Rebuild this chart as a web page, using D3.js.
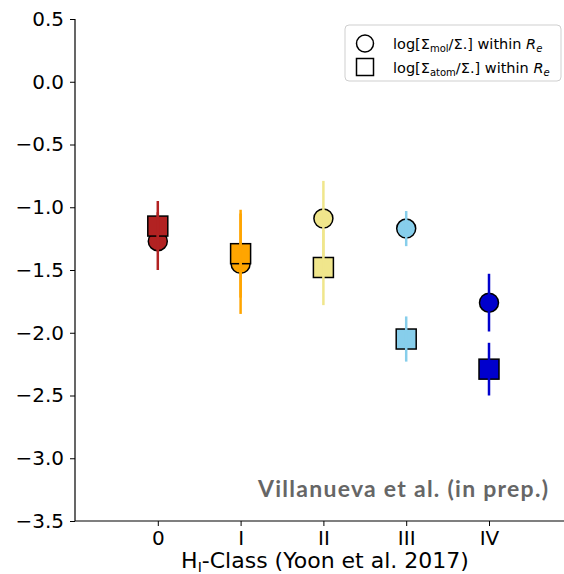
<!DOCTYPE html>
<html>
<head>
<meta charset="utf-8">
<script src="https://cdn.jsdelivr.net/npm/d3@7"></script>
<style>
  html, body { margin: 0; padding: 0; background: #fff; }
  svg { display: block; }
</style>
</head>
<body>
<svg id="chart" width="564" height="574"></svg>
<script>
// HI classes along the x axis
const classes = [0, 1, 2, 3, 4];
const classLabels = ["0", "I", "II", "III", "IV"];
const classColors = ["#b22222", "#ffa500", "#f0e68c", "#87ceeb", "#0000cd"];

// log[Σmol/Σ*] within Re, with symmetric errors
const molValues = [-1.27, -1.45, -1.09, -1.17, -1.76];
const molErrors = [0.23, 0.40, 0.30, 0.14, 0.23];

// log[Σatom/Σ*] within Re, with symmetric errors
const atomValues = [-1.15, -1.37, -1.48, -2.05, -2.29];
const atomErrors = [0.20, 0.35, 0.30, 0.18, 0.21];

// y axis ticks
const yTicks = [0.5, 0.0, -0.5, -1.0, -1.5, -2.0, -2.5, -3.0, -3.5];

const svg = d3.select("#chart");
const plotLeft = 75, plotBottom = 521, plotTop = 19;

const x = d3.scaleLinear().domain([-1, 5]).range([plotLeft, plotLeft + 6 * 82.8]);
const y = d3.scaleLinear().domain([-3.5, 0.5]).range([plotBottom, plotTop]);

const font = "'DejaVu Sans', sans-serif";

// Axes (left and bottom spines only)
const yAxis = svg.append("g")
  .attr("transform", `translate(${plotLeft},0)`)
  .call(d3.axisLeft(y).tickValues(yTicks).tickFormat(d3.format(".1f")).tickSize(5).tickPadding(6));
yAxis.selectAll("text").attr("font-family", font).attr("font-size", 20).attr("fill", "#000")
  .text(d => d3.format(".1f")(d).replace("-", "\u2212"));

const xAxis = svg.append("g")
  .attr("transform", `translate(0,${plotBottom})`)
  .call(d3.axisBottom(x).tickValues(classes).tickFormat((d, i) => classLabels[i]).tickSize(5).tickPadding(5));
xAxis.selectAll("text").attr("font-family", font).attr("font-size", 20).attr("fill", "#000");
[yAxis, xAxis].forEach(g => {
  g.select(".domain").attr("stroke", "#000").attr("stroke-width", 1.2);
  g.selectAll(".tick line").attr("stroke", "#000").attr("stroke-width", 1);
});
yAxis.select(".domain").attr("d", `M0,${plotBottom}V${plotTop}`);
xAxis.select(".domain").attr("d", `M${plotLeft},0H564`);

const plot = svg.append("g");

// Markers: circles for molecular, squares for atomic drawn above them
plot.selectAll(null).data(classes).enter().append("circle")
  .attr("cx", d => x(d))
  .attr("cy", (d, i) => y(molValues[i]))
  .attr("r", 9.5)
  .attr("fill", (d, i) => classColors[i])
  .attr("stroke", "#000").attr("stroke-width", 1.5);

const sq = 20;
plot.selectAll(null).data(classes).enter().append("rect")
  .attr("x", d => x(d) - sq / 2)
  .attr("y", (d, i) => y(atomValues[i]) - sq / 2)
  .attr("width", sq).attr("height", sq)
  .attr("fill", (d, i) => classColors[i])
  .attr("stroke", "#000").attr("stroke-width", 1.5);

// Error bars on top of the markers
function errorBars(vals, errs) {
  plot.selectAll(null).data(classes).enter().append("line")
    .attr("x1", d => x(d)).attr("x2", d => x(d))
    .attr("y1", (d, i) => y(vals[i] + errs[i]))
    .attr("y2", (d, i) => y(vals[i] - errs[i]))
    .attr("stroke", (d, i) => classColors[i])
    .attr("stroke-width", 2.5);
}
errorBars(molValues, molErrors);
errorBars(atomValues, atomErrors);

// Legend
const lg = svg.append("g");
lg.append("rect").attr("x", 345).attr("y", 25).attr("width", 216).attr("height", 56)
  .attr("rx", 4).attr("fill", "#fff").attr("stroke", "#cfcfcf").attr("stroke-width", 1);
lg.append("circle").attr("cx", 365).attr("cy", 43.5).attr("r", 8.5)
  .attr("fill", "none").attr("stroke", "#000").attr("stroke-width", 1.5);
lg.append("rect").attr("x", 356.5).attr("y", 58.5).attr("width", 17).attr("height", 17)
  .attr("fill", "none").attr("stroke", "#000").attr("stroke-width", 1.5);

function legendLabel(yPos, sub) {
  const t = lg.append("text").attr("x", 393).attr("y", yPos)
    .attr("font-family", font).attr("font-size", 14.5).attr("fill", "#000");
  t.append("tspan").text("log[\u03A3");
  t.append("tspan").attr("font-size", 10).attr("dy", 3).text(sub);
  t.append("tspan").attr("dy", -3).text("/\u03A3.] within ");
  t.append("tspan").attr("font-style", "italic").text("R");
  t.append("tspan").attr("font-size", 10).attr("dy", 3).attr("font-style", "italic").text("e");
}
legendLabel(48.5, "mol");
legendLabel(72.5, "atom");

// Attribution
svg.append("text").attr("x", 548).attr("y", 497).attr("text-anchor", "end")
  .attr("font-family", "Lato, 'Open Sans', sans-serif").attr("font-weight", "bold")
  .attr("font-size", 23).attr("fill", "#666")
  .attr("textLength", 290).attr("lengthAdjust", "spacing")
  .text("Villanueva et al. (in prep.)");

// X axis title
const xt = svg.append("text").attr("x", 325).attr("y", 568).attr("text-anchor", "middle")
  .attr("font-family", font).attr("font-size", 22).attr("fill", "#000");
xt.append("tspan").text("H");
xt.append("tspan").attr("font-size", 14).attr("dy", 4).text("I");
xt.append("tspan").attr("dy", -4).text("-Class (Yoon et al. 2017)");
</script>
</body>
</html>
